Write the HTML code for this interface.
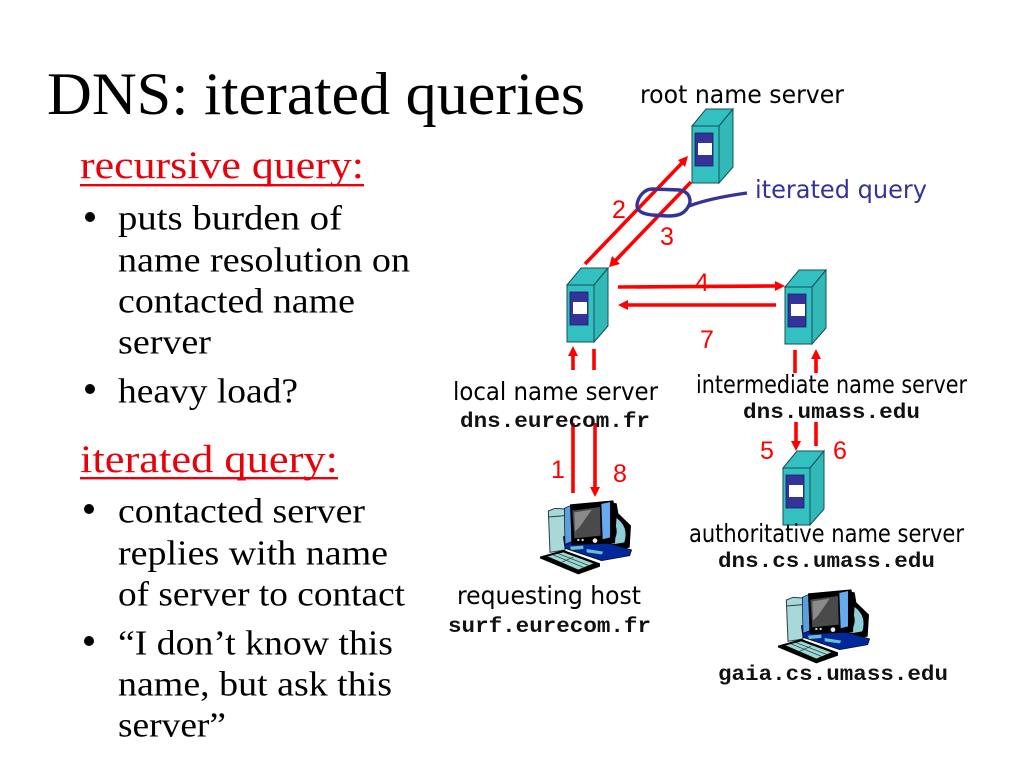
<!DOCTYPE html>
<html><head><meta charset="utf-8"><title>DNS: iterated queries</title>
<style>
html,body{margin:0;padding:0;background:#fff}
svg{display:block}
.b{font-family:"Liberation Serif",serif;font-size:35px;fill:#000;transform:translateY(1.5px)}
.h{font-family:"Liberation Serif",serif;font-size:39px;fill:#e8000b}
.c{font-family:"DejaVu Sans",sans-serif;font-size:25px;fill:#000}
.m{font-family:"Liberation Mono",monospace;font-weight:bold;font-size:21px;fill:#111}
.n{font-family:"Liberation Sans",sans-serif;font-size:25px;fill:#f00}
.r{stroke:#f00;stroke-width:3.6;fill:none}
</style></head><body>
<svg width="1024" height="768" viewBox="0 0 1024 768" xmlns="http://www.w3.org/2000/svg">
<defs>
<g id="srv">
<polygon points="0,0 14,-17 41,-17 27,0" fill="#33c0c0" stroke="#14505a" stroke-width="1"/>
<polygon points="27,0 41,-17 41,41 27,57" fill="#33b8b8" stroke="#14505a" stroke-width="1"/>
<rect x="0" y="0" width="27" height="57" fill="#33c0c0" stroke="#14505a" stroke-width="1"/>
<rect x="3" y="7" width="18" height="33" fill="#333399" stroke="#1a2060" stroke-width="0.8"/>
<rect x="6" y="17" width="14" height="12" fill="#fff"/>
</g>
<g id="pc" transform="scale(.3333)">
<polygon points="40,48 60,40 90,42 90,165 45,172" fill="#a8d8d8" stroke="#23404a" stroke-width="3"/>
<line x1="40" y1="66" x2="90" y2="62" stroke="#23404a" stroke-width="3"/>
<polygon points="215,20 245,25 250,55 288,92 284,158 235,165 200,150" fill="#000"/>
<path d="M243,68 Q282,95 268,142 L222,150 Q258,125 238,80Z" fill="#8fd0d8"/>
<polygon points="85,125 130,120 240,150 290,165 284,182 200,197 90,160" fill="#00289a" stroke="#000" stroke-width="2"/>
<polygon points="105,155 145,152 145,162 108,165" fill="#9fd" opacity=".7"/>
<polygon points="155,162 205,170 200,178 155,172" fill="#9fd" opacity=".7"/>
<polygon points="88,40 110,30 110,140 90,148" fill="#5aa0e0" stroke="#001" stroke-width="2"/>
<polygon points="105,28 235,16 245,60 240,145 110,150" fill="#000"/>
<polygon points="112,47 195,36 197,122 118,130" fill="#4a4a4a"/>
<polygon points="118,52 170,44 135,95 120,110" fill="#8a8a8a"/>
<polygon points="198,26 226,20 226,128 202,134" fill="#66aaf0" stroke="#000" stroke-width="2"/>
<circle cx="130" cy="135" r="3.5" fill="#ddd"/><circle cx="143" cy="135" r="3.5" fill="#ddd"/><circle cx="180" cy="137" r="7" fill="#eee"/>
<polygon points="15,185 85,165 195,205 195,215 130,238 15,190" fill="#000"/>
<polygon points="38,184 85,172 175,205 130,224" fill="#9cd8d0"/>
<g stroke="#18303a" stroke-width="2"><line x1="55" y1="180" x2="145" y2="217"/><line x1="70" y1="176" x2="160" y2="211"/><line x1="115" y1="186" x2="80" y2="202"/></g>
</g>
</defs>

<text x="47" y="114" font-family="Liberation Serif, serif" font-size="60" textLength="538" lengthAdjust="spacingAndGlyphs">DNS: iterated queries</text>

<text class="h" x="80" y="178" textLength="284" lengthAdjust="spacingAndGlyphs">recursive query:</text>
<rect x="80" y="184" width="284" height="2.4" fill="#e8000b"/>
<circle cx="90" cy="217" r="5"/>
<text class="b" x="118" y="228" textLength="224" lengthAdjust="spacingAndGlyphs">puts burden of</text>
<text class="b" x="118" y="270" textLength="292" lengthAdjust="spacingAndGlyphs">name resolution on</text>
<text class="b" x="118" y="311" textLength="237" lengthAdjust="spacingAndGlyphs">contacted name</text>
<text class="b" x="118" y="352" textLength="93" lengthAdjust="spacingAndGlyphs">server</text>
<circle cx="90" cy="389" r="5"/>
<text class="b" x="118" y="401" textLength="180" lengthAdjust="spacingAndGlyphs">heavy load?</text>

<text class="h" x="80" y="472" textLength="258" lengthAdjust="spacingAndGlyphs">iterated query:</text>
<rect x="80" y="477" width="258" height="2.4" fill="#e8000b"/>
<circle cx="89" cy="509" r="5"/>
<text class="b" x="118" y="521" textLength="247" lengthAdjust="spacingAndGlyphs">contacted server</text>
<text class="b" x="118" y="563" textLength="270" lengthAdjust="spacingAndGlyphs">replies with name</text>
<text class="b" x="118" y="604" textLength="287" lengthAdjust="spacingAndGlyphs">of server to contact</text>
<circle cx="89" cy="641" r="5"/>
<text class="b" x="118" y="653" textLength="275" lengthAdjust="spacingAndGlyphs">“I don’t know this</text>
<text class="b" x="118" y="694" textLength="274" lengthAdjust="spacingAndGlyphs">name, but ask this</text>
<text class="b" x="118" y="735" textLength="108" lengthAdjust="spacingAndGlyphs">server”</text>

<use href="#srv" x="692" y="126"/>
<use href="#srv" x="567" y="285"/>
<use href="#srv" x="785" y="287"/>
<use href="#srv" x="783" y="468"/>

<g transform="translate(535,495)"><use href="#pc"/></g>
<g transform="translate(773,584)"><use href="#pc"/></g>

<g>
<line class="r" x1="585" y1="264" x2="682" y2="163"/>
<line class="r" x1="691" y1="182" x2="615" y2="261"/>
<line class="r" x1="618" y1="287" x2="776" y2="286"/>
<line class="r" x1="776" y1="305" x2="626" y2="305"/>
<line class="r" x1="573" y1="370" x2="573" y2="354"/>
<line class="r" x1="594" y1="349" x2="594" y2="370"/>
<line class="r" x1="573" y1="423" x2="573" y2="493"/>
<line class="r" x1="595" y1="423" x2="595" y2="489"/>
<line class="r" x1="795" y1="350" x2="795" y2="373"/>
<line class="r" x1="816" y1="358" x2="816" y2="373"/>
<line class="r" x1="796" y1="422" x2="796" y2="443"/>
<line class="r" x1="816" y1="422" x2="816" y2="446"/>
</g>
<g fill="#f00">
<polygon points="688,156 678,160 685,167"/>
<polygon points="609,267 612,256 620,264"/>
<polygon points="785,286 775,281 775,291"/>
<polygon points="618,305 628,300 628,310"/>
<polygon points="573,346 568,356 578,356"/>
<polygon points="595,497 590,487 600,487"/>
<polygon points="816,349 811,359 821,359"/>
<polygon points="796,451 791,441 801,441"/>
</g>

<path d="M637,205 C638,196 645,189 652,189 L680,190 C690,192 692,201 688,207 C684,214 678,216 668,216 L652,215 C644,214 637,212 637,205Z M689,206 C705,200 725,196 747,193" fill="none" stroke="#333399" stroke-width="3.4"/>

<text class="c" x="640" y="103" textLength="204" lengthAdjust="spacingAndGlyphs">root name server</text>
<text class="c" x="755" y="198" textLength="172" lengthAdjust="spacingAndGlyphs" style="fill:#333399">iterated query</text>
<text class="c" x="453" y="400" textLength="205" lengthAdjust="spacingAndGlyphs">local name server</text>
<text class="m" x="460" y="427" textLength="190" lengthAdjust="spacingAndGlyphs">dns.eurecom.fr</text>
<text class="c" x="696" y="393" textLength="271" lengthAdjust="spacingAndGlyphs">intermediate name server</text>
<text class="m" x="743" y="418" textLength="177" lengthAdjust="spacingAndGlyphs">dns.umass.edu</text>
<text class="c" x="689" y="542" textLength="275" lengthAdjust="spacingAndGlyphs">authoritative name server</text>
<text class="m" x="718" y="567" textLength="217" lengthAdjust="spacingAndGlyphs">dns.cs.umass.edu</text>
<text class="c" x="457" y="604" textLength="184" lengthAdjust="spacingAndGlyphs">requesting host</text>
<text class="m" x="448" y="632" textLength="203" lengthAdjust="spacingAndGlyphs">surf.eurecom.fr</text>
<text class="m" x="718" y="680" textLength="230" lengthAdjust="spacingAndGlyphs">gaia.cs.umass.edu</text>

<text class="n" x="612" y="218">2</text>
<text class="n" x="660" y="245">3</text>
<text class="n" x="695" y="291">4</text>
<text class="n" x="700" y="348">7</text>
<text class="n" x="551" y="478">1</text>
<text class="n" x="613" y="482">8</text>
<text class="n" x="760" y="459">5</text>
<text class="n" x="833" y="459">6</text>
</svg>
</body></html>
